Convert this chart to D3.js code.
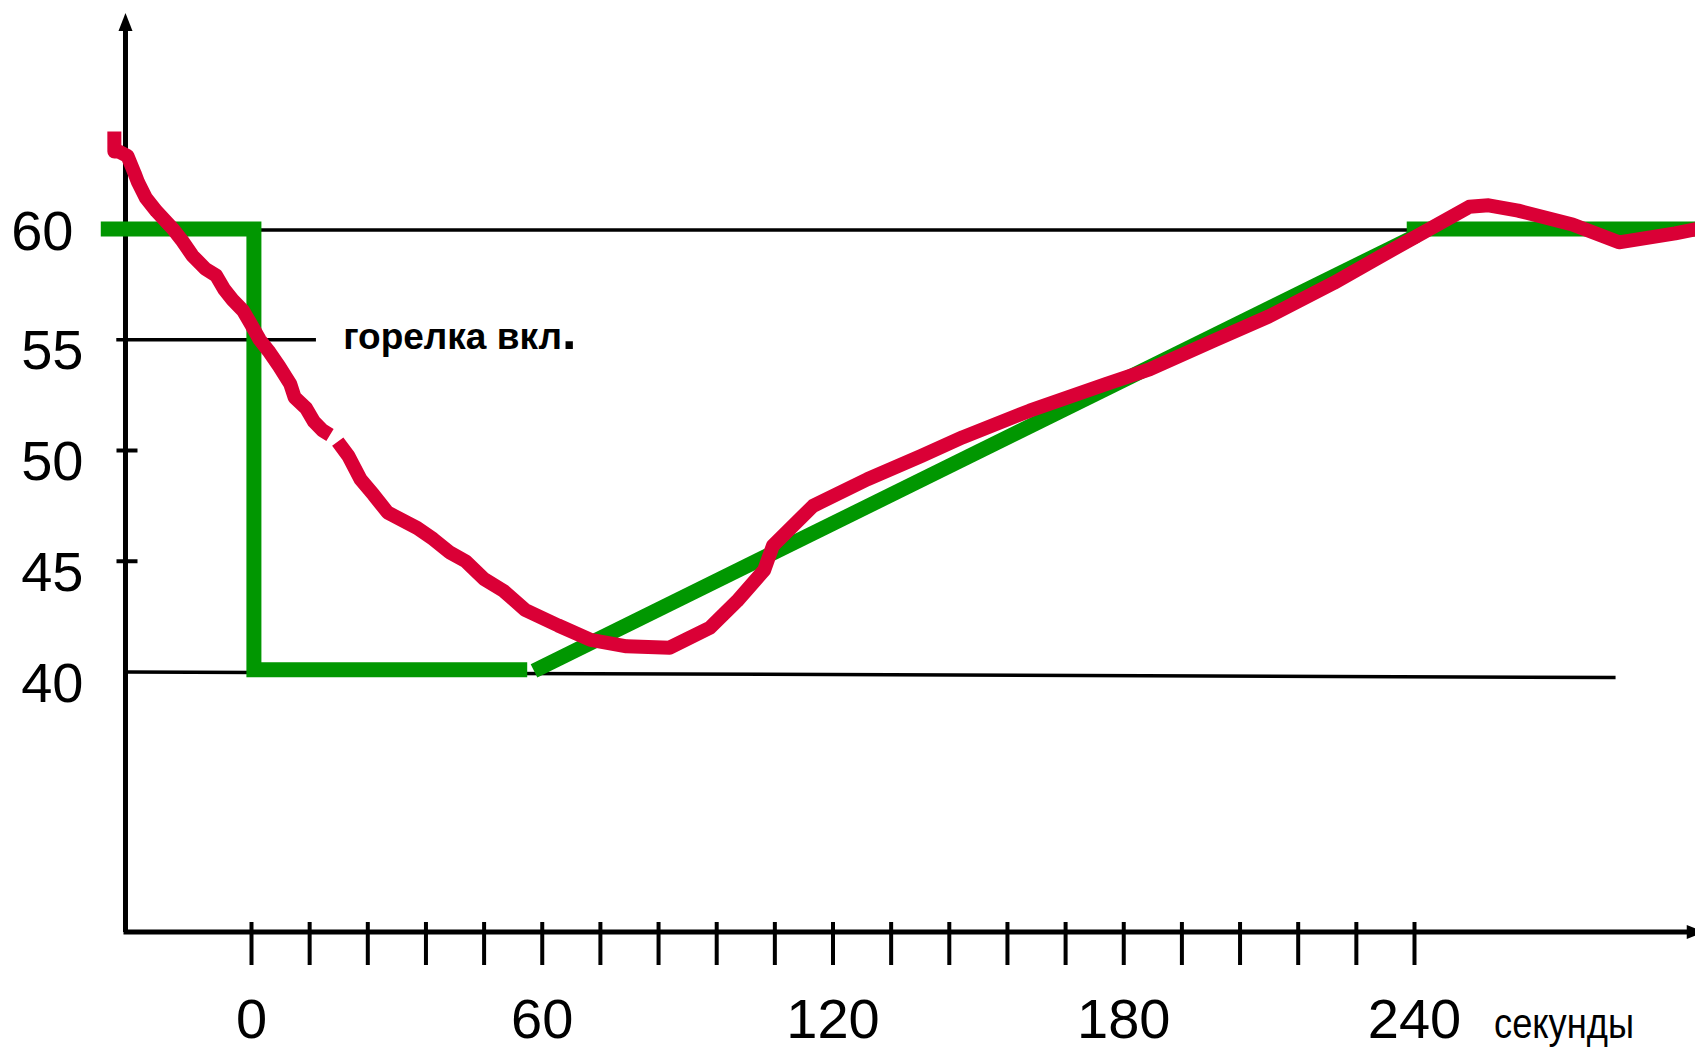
<!DOCTYPE html>
<html>
<head>
<meta charset="utf-8">
<script src="https://cdn.jsdelivr.net/npm/d3@7"></script>
<style>
body { margin: 0; background: #fff; }
svg { display: block; font-family: "Liberation Sans", Arial, sans-serif; }
</style>
</head>
<body>
<svg width="1695" height="1050"></svg>
<script>
// seconds on x, temperature on y
var secTicks = [0, 12, 24, 36, 48, 60, 72, 84, 96, 108, 120, 132, 144, 156, 168, 180, 192, 204, 216, 228, 240];
var secLabels = [0, 60, 120, 180, 240];
var tempLabels = [40, 45, 50, 55, 60];
var tempTicks = [45, 50];

// burner profile (green)
var greenStep = [[-31, 60], [0.6, 60], [0.6, 40.1], [57, 40.1]];
var greenRamp = [[58.4, 40.05], [240.5, 59.7]];
var greenHold = [[238.5, 60], [299.5, 60]];

// measured temperature (red), broken in two pieces
var redBefore = [
    [-28.2, 64.4], [-28.2, 63.5], [-27.3, 63.5], [-25.5, 63.3], [-24.0, 62.5], [-23.3, 62.1],
    [-21.7, 61.4], [-19.5, 60.8], [-16.1, 60.0], [-14.3, 59.5], [-12.1, 58.8], [-9.4, 58.2],
    [-7.2, 57.9], [-5.6, 57.3], [-3.8, 56.8], [-1.6, 56.3], [0, 55.7], [1.8, 55.0],
    [3.6, 54.5], [5.8, 53.8], [8.1, 53.0], [9.0, 52.4], [11.4, 51.9], [13.0, 51.3],
    [14.8, 50.9], [16.3, 50.7]
];
var redAfter = [
    [17.9, 50.4], [20.1, 49.75], [22.6, 48.7], [25.3, 48.0], [28.2, 47.2], [34.3, 46.5],
    [37.6, 46.0], [41.0, 45.4], [44.3, 45.0], [48.1, 44.2], [52.2, 43.65], [56.6, 42.8],
    [63.4, 42.1], [70.1, 41.45], [77.5, 41.16], [86.4, 41.1], [94.7, 42.0], [100.3, 43.2],
    [105.9, 44.6], [107.7, 45.7], [116.0, 47.5], [127.2, 48.7], [138.3, 49.75], [146.9, 50.6],
    [160.7, 51.8], [176.4, 53.0], [185.4, 53.66], [198.8, 54.97], [210.0, 56.05], [223.4, 57.56],
    [231.3, 58.54], [239.1, 59.5], [251.4, 61.0], [255.4, 61.07], [261.5, 60.83], [272.7, 60.2],
    [282.3, 59.4], [293.9, 59.8], [299.5, 60.05]
];

// thin black reference lines
var line60 = [[0.6, 59.95], [300, 59.95]];
var line55 = [[-27.8, 55], [13.4, 55]];
var line40 = [[-25.9, 40], [281.6, 39.75]];

var xStart = -25.9, xEnd = 300;

d3.select(window).on('load', function() {

    var svg = d3.select('svg');

    var x = d3.scaleLinear()
        .domain([0, 240])
        .range([251, 1414]);

    var y = d3.scaleLinear()
        .domain([40, 60])
        .range([672, 229]);

    var yBottom = 932;
    var yTop = 13;

    var line = d3.line()
        .x(function(d) { return x(d[0]); })
        .y(function(d) { return y(d[1]); });

    // reference lines
    [line60, line55, line40].forEach(function(l) {
        svg.append('path')
            .attr('d', line(l))
            .attr('fill', 'none')
            .attr('stroke', '#000')
            .attr('stroke-width', 3.5);
    });

    // y axis
    var yAxis = svg.append('g')
        .attr('transform', 'translate(' + x(xStart) + ',0)')
        .call(d3.axisLeft(y).tickValues(tempLabels).tickSize(0).tickPadding(42));
    yAxis.select('.domain').remove();
    yAxis.selectAll('text')
        .attr('font-size', 56)
        .attr('font-family', '"Liberation Sans", Arial, sans-serif')
        .attr('fill', '#000')
        .attr('dy', function(d) { return d === 60 ? '0.36em' : '0.52em'; })
        .attr('x', function(d) { return d === 60 ? -52 : -42; });

    svg.append('line')
        .attr('x1', x(xStart)).attr('x2', x(xStart))
        .attr('y1', yBottom).attr('y2', yTop + 14)
        .attr('stroke', '#000').attr('stroke-width', 5);
    svg.append('path')
        .attr('d', 'M' + x(xStart) + ',' + yTop + 'l-7,18l14,0z')
        .attr('fill', '#000');

    svg.selectAll('.ytick')
        .data(tempTicks)
        .enter()
        .append('line')
        .attr('class', 'ytick')
        .attr('x1', x(xStart) - 9)
        .attr('x2', x(xStart) + 12)
        .attr('y1', function(d) { return y(d); })
        .attr('y2', function(d) { return y(d); })
        .attr('stroke', '#000')
        .attr('stroke-width', 4);

    // x axis
    var xAxis = svg.append('g')
        .attr('transform', 'translate(0,' + yBottom + ')')
        .call(d3.axisBottom(x).tickValues(secTicks).tickSize(33)
            .tickFormat(function(d) { return secLabels.indexOf(d) >= 0 ? d : ''; }));
    xAxis.select('.domain').remove();
    xAxis.selectAll('.tick line')
        .attr('y1', -10)
        .attr('stroke', '#000')
        .attr('stroke-width', 4);
    xAxis.selectAll('text')
        .attr('font-size', 56)
        .attr('font-family', '"Liberation Sans", Arial, sans-serif')
        .attr('fill', '#000')
        .attr('y', 106)
        .attr('dy', 0);

    svg.append('line')
        .attr('x1', x(xStart) - 2).attr('x2', x(xEnd) - 14)
        .attr('y1', yBottom).attr('y2', yBottom)
        .attr('stroke', '#000').attr('stroke-width', 5);
    svg.append('path')
        .attr('d', 'M' + x(xEnd) + ',' + yBottom + 'l-18,-7l0,14z')
        .attr('fill', '#000');

    // green profile
    [greenStep, greenRamp, greenHold].forEach(function(l) {
        svg.append('path')
            .attr('d', line(l))
            .attr('fill', 'none')
            .attr('stroke', '#019701')
            .attr('stroke-width', 15)
            .attr('stroke-linejoin', 'miter');
    });

    // red temperature
    [redBefore, redAfter].forEach(function(l) {
        svg.append('path')
            .attr('d', line(l))
            .attr('fill', 'none')
            .attr('stroke', '#da0036')
            .attr('stroke-width', 14)
            .attr('stroke-linejoin', 'round');
    });

    // labels
    var note = svg.append('text')
        .attr('x', x(-1) + 97)
        .attr('y', y(55) + 9)
        .attr('font-size', 37)
        .attr('font-weight', 'bold')
        .attr('fill', '#000')
        .text('горелка вкл');
    note.append('tspan')
        .attr('font-size', 52)
        .text('.');

    svg.append('text')
        .attr('x', 1494)
        .attr('y', 1038)
        .attr('font-size', 42)
        .attr('textLength', 140)
        .attr('lengthAdjust', 'spacingAndGlyphs')
        .attr('fill', '#000')
        .text('секунды');
});
</script>
</body>
</html>
